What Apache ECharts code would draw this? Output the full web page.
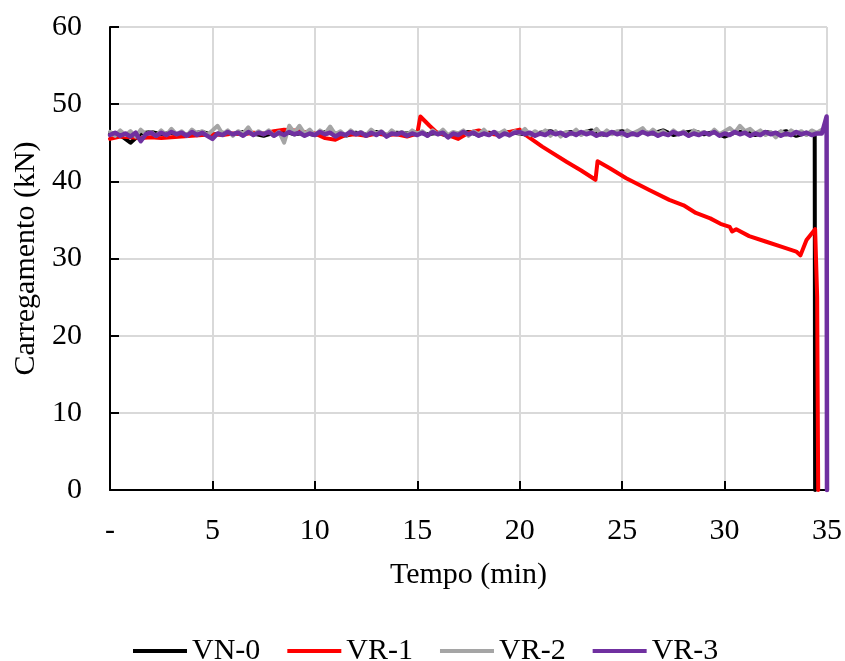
<!DOCTYPE html>
<html><head><meta charset="utf-8">
<script src="https://cdn.jsdelivr.net/npm/echarts@6/dist/echarts.min.js"></script>
<style>html,body{margin:0;padding:0;background:#fff}#c{width:845px;height:661px}</style>
</head><body><div id="c"></div>
<script>
// ---- data ----
const seriesNames = ['VN-0', 'VR-1', 'VR-2', 'VR-3'];
const xTicks = [0, 5, 10, 15, 20, 25, 30, 35];
const yTicks = [0, 10, 20, 30, 40, 50, 60];

// time grid 0.5 min (0..34)
const tHalf = [0,0.5,1,1.5,2,2.5,3,3.5,4,4.5,5,5.5,6,6.5,7,7.5,8,8.5,9,9.5,
  10,10.5,11,11.5,12,12.5,13,13.5,14,14.5,15,15.5,16,16.5,17,17.5,18,18.5,19,19.5,
  20,20.5,21,21.5,22,22.5,23,23.5,24,24.5,25,25.5,26,26.5,27,27.5,28,28.5,29,29.5,
  30,30.5,31,31.5,32,32.5,33,33.5,34];
// time grid 0.25 min (0..34.5)
const tQuarter = [0,0.25,0.5,0.75,1,1.25,1.5,1.75,2,2.25,
  2.5,2.75,3,3.25,3.5,3.75,4,4.25,4.5,4.75,
  5,5.25,5.5,5.75,6,6.25,6.5,6.75,7,7.25,
  7.5,7.75,8,8.25,8.5,8.75,9,9.25,9.5,9.75,
  10,10.25,10.5,10.75,11,11.25,11.5,11.75,12,12.25,
  12.5,12.75,13,13.25,13.5,13.75,14,14.25,14.5,14.75,
  15,15.25,15.5,15.75,16,16.25,16.5,16.75,17,17.25,
  17.5,17.75,18,18.25,18.5,18.75,19,19.25,19.5,19.75,
  20,20.25,20.5,20.75,21,21.25,21.5,21.75,22,22.25,
  22.5,22.75,23,23.25,23.5,23.75,24,24.25,24.5,24.75,
  25,25.25,25.5,25.75,26,26.25,26.5,26.75,27,27.25,
  27.5,27.75,28,28.25,28.5,28.75,29,29.25,29.5,29.75,
  30,30.25,30.5,30.75,31,31.25,31.5,31.75,32,32.25,
  32.5,32.75,33,33.25,33.5,33.75,34,34.25,34.5];

const vn0Y = [46.3,46.0,45.0,46.2,46.4,46.1,46.3,45.9,46.2,46.4,
  46.0,46.3,46.1,46.4,46.2,45.9,46.3,46.5,46.1,46.3,
  46.0,46.4,46.2,45.9,46.3,46.1,46.4,46.0,46.3,46.2,
  46.4,46.1,46.3,45.9,46.2,46.4,46.0,46.3,46.1,46.4,
  46.2,46.0,46.3,46.5,46.1,46.4,46.2,46.6,46.0,46.3,
  46.5,46.1,46.4,46.2,46.6,46.0,46.3,46.5,46.1,46.4,
  45.8,46.3,46.5,46.0,46.4,46.2,46.5,45.9,46.3];
const vn0TailT = [34.4, 34.42];
const vn0TailY = [46.1, 0];

const vr1T = [0,0.5,1,1.5,2,2.5,3,3.5,4,4.5,5,5.5,6,6.5,7,7.5,8,8.5,9,9.5,
  10,10.5,11,11.5,12,12.5,13,13.5,14,14.5,15,15.15,15.6,
  16,16.5,17,17.5,18,18.5,19,19.5,20,
  20.25,21.1,22.3,23.0,23.7,23.8,
  24.4,25.2,26.3,27.3,28.0,28.6,29.3,29.8,
  30.25,30.37,30.57,31.2,32.0,32.8,33.5,33.7,34.0,34.42,34.52,34.57];
const vr1Y = [45.5,45.8,45.7,45.6,45.7,45.6,45.7,45.8,45.9,46.0,
  46.1,46.0,46.2,46.1,46.3,46.2,46.5,46.7,46.6,46.4,
  46.2,45.6,45.4,46.0,46.1,45.9,46.2,46.0,46.1,45.8,46.2,48.4,47.2,
  46.2,46.0,45.5,46.3,46.6,46.2,46.0,46.4,46.7,
  46.1,44.5,42.5,41.4,40.2,42.6,
  41.7,40.4,38.9,37.6,36.9,35.9,35.2,34.5,
  34.1,33.5,33.8,32.9,32.2,31.5,30.9,30.4,32.4,33.8,25,0];

const vr2Y = [46.4,45.9,46.6,46.0,46.5,45.8,46.7,46.1,46.4,45.9,
  46.6,46.0,46.8,46.1,46.5,45.9,46.7,46.2,46.5,46.0,
  46.6,47.2,46.1,46.6,45.9,46.5,46.2,47.0,46.0,46.5,
  46.1,46.6,45.9,46.4,45.0,47.2,46.3,47.2,46.2,46.7,
  46.0,46.6,46.2,47.1,46.1,46.5,45.9,46.6,46.1,46.4,
  46.0,46.7,46.2,46.5,45.9,46.6,46.1,46.4,46.0,46.6,
  46.2,46.5,45.9,46.6,46.1,46.7,46.0,46.4,46.2,46.6,
  45.9,46.5,46.1,46.7,46.0,46.4,46.2,46.6,45.9,46.5,
  46.2,46.8,46.0,46.5,46.1,46.6,45.9,46.5,45.8,46.4,
  46.1,46.7,46.0,46.5,46.2,46.8,46.0,46.6,46.1,46.5,
  46.0,46.6,46.2,46.5,46.9,46.1,46.7,46.2,46.5,46.0,
  46.6,46.1,46.5,45.9,46.6,46.2,46.4,46.0,46.7,46.1,
  46.5,46.9,46.3,47.2,46.5,46.8,46.2,46.6,46.0,46.4,
  45.7,46.5,46.0,46.6,46.2,46.5,46.0,46.6,46.3];
const vr2TailT = [34.75];
const vr2TailY = [46.7];

const vr3Y = [46.0,46.3,45.9,46.2,45.8,46.3,45.2,46.1,46.3,45.9,
  46.3,46.0,46.4,46.1,46.3,45.9,46.4,46.0,46.3,45.9,
  45.5,46.2,46.0,46.4,46.1,46.3,45.9,46.4,46.0,46.3,
  46.1,46.4,45.9,46.3,46.0,46.4,46.1,46.3,45.9,46.2,
  46.0,46.4,46.1,46.3,45.8,46.2,46.0,46.4,46.1,46.3,
  45.9,46.3,46.0,46.4,45.8,46.2,46.1,46.3,45.9,46.2,
  46.0,46.3,45.9,46.4,46.1,46.3,45.7,46.2,46.0,46.4,
  46.1,46.3,45.9,46.2,46.0,46.4,45.8,46.2,46.0,46.3,
  46.4,46.1,46.3,45.9,46.2,46.0,46.4,46.1,46.3,45.9,
  46.3,46.0,46.4,46.1,46.3,45.9,46.2,46.0,46.4,46.1,
  46.3,45.9,46.2,46.0,46.4,46.1,46.3,45.9,46.2,46.0,
  46.4,46.1,46.3,45.9,46.2,46.0,46.3,46.1,46.4,45.9,
  46.2,46.0,46.4,46.1,46.3,45.9,46.2,46.0,46.4,46.1,
  46.3,45.9,46.2,46.0,46.4,46.1,46.3,46.0,46.2];
const vr3TailT = [34.75, 34.98, 35.0];
const vr3TailY = [46.2, 48.4, 0];

const colors = ['#000000', '#ff0000', '#a5a5a5', '#7030a0'];

// ---- build ----
function zip(t, y) { return t.map((v, i) => [v, y[i]]); }
const d0 = zip(tHalf, vn0Y).concat(zip(vn0TailT, vn0TailY));
const d1 = zip(vr1T, vr1Y);
const d2 = zip(tQuarter, vr2Y).concat(zip(vr2TailT, vr2TailY));
const d3 = zip(tQuarter, vr3Y).concat(zip(vr3TailT, vr3TailY));
const datas = [d0, d1, d2, d3];
const widths = [4, 4, 4, 4.5];

const FONT = 'Liberation Serif';
const chart = echarts.init(document.getElementById('c'));
chart.setOption({
  animation: false,
  backgroundColor: '#fff',
  textStyle: { fontFamily: FONT, color: '#000' },
  grid: { left: 110, right: 18, top: 27, bottom: 171, containLabel: false },
  legend: {
    left: 128, top: 631,
    itemWidth: 54, itemHeight: 14, itemGap: 27,
    textStyle: { fontFamily: FONT, fontSize: 30, color: '#000' },
    data: seriesNames.map((n, i) => ({ name: n, icon: 'path://M0,6 L54,6 L54,10 L0,10 Z', itemStyle: { color: colors[i] } }))
  },
  xAxis: {
    type: 'value', min: xTicks[0], max: xTicks[xTicks.length - 1], interval: 5,
    name: 'Tempo (min)', nameLocation: 'middle', nameGap: 70,
    nameTextStyle: { fontFamily: FONT, fontSize: 30, color: '#000' },
    axisLine: { show: true, lineStyle: { color: '#000', width: 2 } },
    axisTick: { show: true, inside: true, length: 9, lineStyle: { color: '#000', width: 2 } },
    axisLabel: { fontFamily: FONT, fontSize: 30, color: '#000', margin: 26,
      formatter: v => (v === 0 ? '-' : String(v)) },
    splitLine: { show: true, lineStyle: { color: '#d9d9d9', width: 2 } }
  },
  yAxis: {
    type: 'value', min: yTicks[0], max: yTicks[yTicks.length - 1], interval: 10,
    name: 'Carregamento (kN)', nameLocation: 'middle', nameGap: 68,
    nameTextStyle: { fontFamily: FONT, fontSize: 30, color: '#000' },
    axisLine: { show: true, lineStyle: { color: '#000', width: 2 } },
    axisTick: { show: true, inside: true, length: 9, lineStyle: { color: '#000', width: 2 } },
    axisLabel: { fontFamily: FONT, fontSize: 30, color: '#000', margin: 28 },
    splitLine: { show: true, lineStyle: { color: '#d9d9d9', width: 2 } }
  },
  series: seriesNames.map((n, i) => ({
    name: n, type: 'line', data: datas[i], showSymbol: false, symbol: 'none',
    clip: false, smooth: false,
    lineStyle: { color: colors[i], width: widths[i], join: 'round', cap: 'round' },
    itemStyle: { color: colors[i] }, z: 2 + i
  }))
});
</script></body></html>
